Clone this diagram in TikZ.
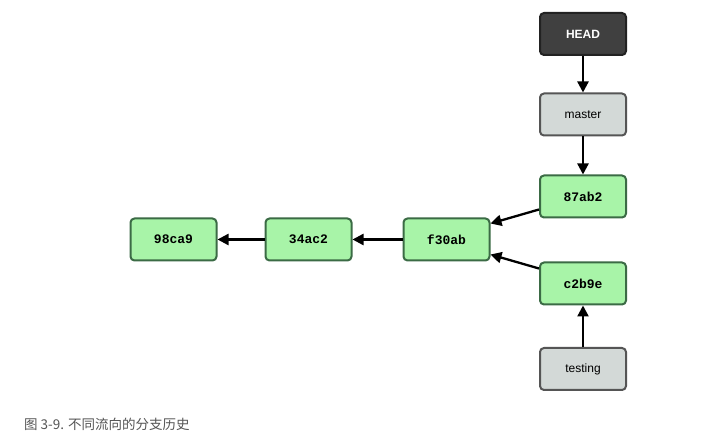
\documentclass[tikz,border=0pt]{standalone}
\usepackage{fontspec}
\setmainfont{Liberation Sans}
\newfontfamily\cjk{Noto Sans CJK SC}
\newfontfamily\codefont{Liberation Mono}
\usetikzlibrary{arrows.meta,calc}
\definecolor{commitfill}{HTML}{A8F4A8}
\definecolor{commitdraw}{HTML}{3B6B45}
\definecolor{reffill}{HTML}{D3D9D7}
\definecolor{refdraw}{HTML}{555555}
\definecolor{headfill}{HTML}{404040}
\definecolor{headdraw}{HTML}{222222}
\definecolor{captiongray}{HTML}{555555}
\begin{document}
\begin{tikzpicture}[x=1pt,y=-1pt,
  box/.style={rectangle,rounded corners=4pt,line width=2pt,minimum width=86pt,minimum height=42pt,inner sep=0pt},
  commit/.style={box,fill=commitfill,draw=commitdraw,font=\codefont\bfseries\fontsize{13}{15}\selectfont},
  ref/.style={box,fill=reffill,draw=refdraw,font=\fontsize{12}{14}\selectfont},
  headbox/.style={box,fill=headfill,draw=headdraw,text=white,font=\bfseries\fontsize{12}{14}\selectfont},
  conn/.style={line width=2.3pt,-{Triangle[length=11pt,width=11pt]}}]
\useasboundingbox (0,0) rectangle (716,435);
\fill[white] (0,0) rectangle (716,435);
\node[headbox] (head) at (583,34) {HEAD};
\node[ref] (master) at (583,114.5) {master};
\node[commit] (c87) at (583,196.5) {87ab2};
\node[commit] (cc2) at (583,283.5) {c2b9e};
\node[ref] (testing) at (583,369) {testing};
\node[commit] (cf3) at (446.5,239.5) {f30ab};
\node[commit] (c34) at (308.5,239.5) {34ac2};
\node[commit] (c98) at (173.5,239.5) {98ca9};
\draw[conn] (head) -- (master);
\draw[conn] (master) -- (c87);
\draw[conn] (testing) -- (cc2);
\draw[conn] ($(c87.west)+(0,13)$) -- ($(cf3.east)+(0,-16)$);
\draw[conn] ($(cc2.west)+(0,-15)$) -- ($(cf3.east)+(0,15)$);
\draw[conn] (cf3) -- (c34);
\draw[conn] (c34) -- (c98);
\node[anchor=west,text=captiongray,inner sep=0pt,font=\cjk\fontsize{13.5}{15}\selectfont] (cap) at (24,424) {图 3-9. 不同流向的分支历史};
\end{tikzpicture}
\end{document}
